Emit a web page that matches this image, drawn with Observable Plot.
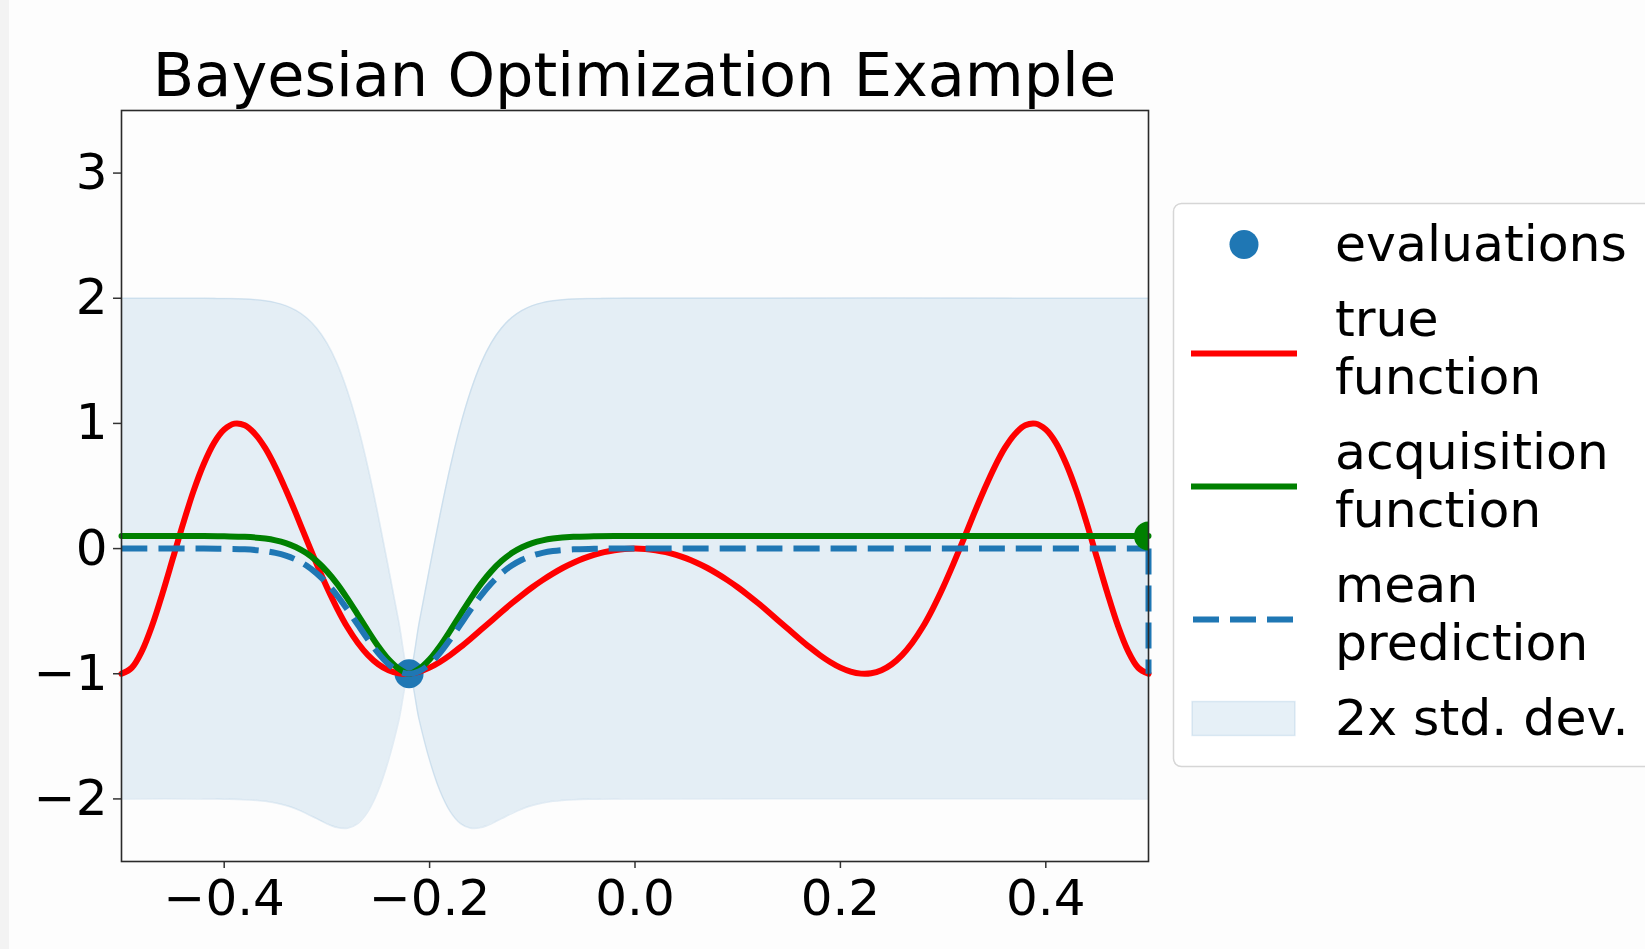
<!DOCTYPE html>
<html>
<head>
<meta charset="utf-8">
<title>Bayesian Optimization Example</title>
<script src="https://cdn.jsdelivr.net/npm/d3@7"></script>
<script src="https://cdn.jsdelivr.net/npm/@observablehq/plot@0.6"></script>
<style>
  html, body { margin: 0; padding: 0; background: #fdfdfd; overflow: hidden; }
  #page { position: relative; width: 1645px; height: 949px; font-family: "DejaVu Sans", sans-serif; }
  #edge { position: absolute; left: 0; top: 0; width: 9px; height: 949px; background: #f3f3f3; }
  #title { position: absolute; left: 121px; width: 1027px; top: 45px; margin: 0; text-align: center;
           font-size: 60.5px; line-height: 60px; font-weight: normal; color: #000; white-space: nowrap; }
  #chart, #legend { position: absolute; left: 0; top: 0; }
</style>
</head>
<body>
<div id="page">
  <div id="edge"></div>
  <div id="chart"></div>
  <h2 id="title">Bayesian Optimization Example</h2>
  <div id="legend"></div>
</div>
<script>
// True objective, sampled every 0.01
const trueX = [-0.50, -0.49, -0.48, -0.47, -0.46, -0.45, -0.44, -0.43, -0.42, -0.41,
               -0.40, -0.39, -0.38, -0.37, -0.36, -0.35, -0.34, -0.33, -0.32, -0.31,
               -0.30, -0.29, -0.28, -0.27, -0.26, -0.25, -0.24, -0.23, -0.22, -0.21,
               -0.20, -0.19, -0.18, -0.17, -0.16, -0.15, -0.14, -0.13, -0.12, -0.11,
               -0.10, -0.09, -0.08, -0.07, -0.06, -0.05, -0.04, -0.03, -0.02, -0.01,
                0.00,
                0.01, 0.02, 0.03, 0.04, 0.05, 0.06, 0.07, 0.08, 0.09, 0.10,
                0.11, 0.12, 0.13, 0.14, 0.15, 0.16, 0.17, 0.18, 0.19, 0.20,
                0.21, 0.22, 0.23, 0.24, 0.25, 0.26, 0.27, 0.28, 0.29, 0.30,
                0.31, 0.32, 0.33, 0.34, 0.35, 0.36, 0.37, 0.38, 0.39, 0.40,
                0.41, 0.42, 0.43, 0.44, 0.45, 0.46, 0.47, 0.48, 0.49, 0.50];
const trueY = [-1.000, -0.952, -0.817, -0.611, -0.356, -0.079, 0.199, 0.457, 0.674, 0.843,
                0.951, 0.998, 0.985, 0.916, 0.802, 0.649, 0.470, 0.277, 0.075, -0.122,
               -0.309, -0.479, -0.629, -0.752, -0.851, -0.924, -0.972, -0.996, -0.999, -0.983,
               -0.951, -0.906, -0.851, -0.788, -0.720, -0.649, -0.578, -0.506, -0.437, -0.371,
               -0.309, -0.252, -0.200, -0.153, -0.113, -0.078, -0.050, -0.028, -0.013, -0.003,
                0.000,
               -0.003, -0.013, -0.028, -0.050, -0.078, -0.113, -0.153, -0.200, -0.252, -0.309,
               -0.371, -0.437, -0.506, -0.578, -0.649, -0.720, -0.788, -0.851, -0.906, -0.951,
               -0.983, -0.999, -0.996, -0.972, -0.924, -0.851, -0.752, -0.629, -0.479, -0.309,
               -0.122, 0.075, 0.277, 0.470, 0.649, 0.802, 0.916, 0.985, 0.998, 0.951,
                0.843, 0.674, 0.457, 0.199, -0.079, -0.356, -0.611, -0.817, -0.952, -1.000];

// Gaussian-process posterior around the single evaluation
const gpX    = [-0.50, -0.42, -0.40, -0.38, -0.36, -0.35, -0.34, -0.33, -0.32, -0.31, -0.30, -0.29, -0.28,
                -0.27, -0.26, -0.25, -0.24, -0.23, -0.22, -0.21, -0.20, -0.19, -0.18, -0.17, -0.16, -0.15,
                -0.14, -0.13, -0.12, -0.11, -0.10, -0.09, -0.08, -0.06, -0.04, -0.02, 0.50];
const meanY  = [0.000, 0.000, -0.002, -0.006, -0.020, -0.034, -0.056, -0.089, -0.135, -0.198, -0.278, -0.375, -0.487,
                -0.607, -0.726, -0.835, -0.923, -0.980, -1.000, -0.980, -0.923, -0.835, -0.726, -0.607, -0.487, -0.375,
                -0.278, -0.198, -0.135, -0.089, -0.056, -0.034, -0.020, -0.006, -0.002, 0.000, 0.000];
const lowerY = [-2.000, -2.000, -2.002, -2.006, -2.019, -2.033, -2.053, -2.081, -2.117, -2.158, -2.199, -2.229, -2.234,
                -2.197, -2.101, -1.935, -1.692, -1.376, -1.000, -1.376, -1.692, -1.935, -2.101, -2.197, -2.234, -2.229,
                -2.199, -2.158, -2.117, -2.081, -2.053, -2.033, -2.019, -2.006, -2.002, -2.000, -2.000];
const upperY = [2.000, 2.000, 1.998, 1.994, 1.980, 1.965, 1.941, 1.903, 1.846, 1.762, 1.643, 1.479, 1.260,
                0.984, 0.649, 0.264, -0.154, -0.584, -1.000, -0.584, -0.154, 0.264, 0.649, 0.984, 1.260, 1.479,
                1.643, 1.762, 1.846, 1.903, 1.941, 1.965, 1.980, 1.994, 1.998, 2.000, 2.000];
const acqY   = [0.100, 0.100, 0.098, 0.094, 0.080, 0.066, 0.044, 0.011, -0.036, -0.100, -0.182, -0.282, -0.400,
                -0.527, -0.657, -0.780, -0.885, -0.960, -1.000, -0.960, -0.885, -0.780, -0.657, -0.527, -0.400, -0.282,
                -0.182, -0.100, -0.036, 0.011, 0.044, 0.066, 0.080, 0.094, 0.098, 0.100, 0.100];

// Mean prediction drops to the new sample at the right edge
const meanTailX = [0.50, 0.50];
const meanTailY = [0.00, -1.00];

// Evaluated point and the next proposed point
const evalX = [-0.22];
const evalY = [-1.00];
const nextX = [0.50];
const nextY = [0.10];

const xDomain = [-0.5, 0.5];
const yDomain = [-2.5, 3.5];
const xTicks = [-0.4, -0.2, 0.0, 0.2, 0.4];
const yTicks = [-2, -1, 0, 1, 2, 3];

const legendLabels = [["evaluations"], ["true", "function"], ["acquisition", "function"], ["mean", "prediction"], ["2x std. dev."]];

const BLUE = "#1f77b4", RED = "#ff0000", GREEN = "#008000";
const LW = 6, DASH = "26,11";

const trueData = trueX.map((x, i) => ({x, y: trueY[i]}));
const gpData = gpX.map((x, i) => ({x, mean: meanY[i], lo: lowerY[i], hi: upperY[i], acq: acqY[i]}));
const tailData = meanTailX.map((x, i) => ({x, y: meanTailY[i]}));
const evalData = evalX.map((x, i) => ({x, y: evalY[i]}));
const nextData = nextX.map((x, i) => ({x, y: nextY[i]}));

const chart = Plot.plot({
  width: 1645,
  height: 949,
  marginLeft: 121,
  marginRight: 497,
  marginTop: 110,
  marginBottom: 88,
  x: {domain: xDomain, label: null},
  y: {domain: yDomain, label: null},
  style: {fontFamily: "'DejaVu Sans', sans-serif", fontSize: "50px", color: "#000", background: "transparent", overflow: "visible"},
  marks: [
    Plot.areaY(gpData, {x: "x", y1: "lo", y2: "hi", fill: BLUE, fillOpacity: 0.11, curve: "catmull-rom"}),
    Plot.line(gpData, {x: "x", y: "lo", stroke: BLUE, strokeOpacity: 0.12, strokeWidth: 1.5, curve: "catmull-rom"}),
    Plot.line(gpData, {x: "x", y: "hi", stroke: BLUE, strokeOpacity: 0.12, strokeWidth: 1.5, curve: "catmull-rom"}),
    Plot.dot(evalData, {x: "x", y: "y", r: 14.5, fill: BLUE}),
    Plot.line(trueData, {x: "x", y: "y", stroke: RED, strokeWidth: LW, curve: "catmull-rom"}),
    Plot.line(gpData, {x: "x", y: "acq", stroke: GREEN, strokeWidth: LW, curve: "catmull-rom"}),
    Plot.line(gpData, {x: "x", y: "mean", stroke: BLUE, strokeWidth: LW, strokeDasharray: DASH, strokeLinecap: "butt", curve: "catmull-rom"}),
    Plot.line(tailData, {x: "x", y: "y", stroke: BLUE, strokeWidth: LW, strokeDasharray: DASH, strokeLinecap: "butt"}),
    Plot.dot(nextData, {x: "x", y: "y", r: 14.5, fill: GREEN, clip: true}),
    Plot.axisX({ticks: xTicks, tickFormat: d3.format(".1f"), tickSize: 7, tickPadding: 11, stroke: "#333", strokeWidth: 1.5}),
    Plot.axisY({ticks: yTicks, tickFormat: d3.format("d"), tickSize: 8, tickPadding: 6, stroke: "#333", strokeWidth: 1.5}),
    Plot.frame({stroke: "#2a2a2a", strokeWidth: 1.6})
  ]
});
document.getElementById("chart").appendChild(chart);

// Legend panel on the right
const legend = d3.create("svg")
  .attr("width", 1645)
  .attr("height", 949)
  .style("font-family", "'DejaVu Sans', sans-serif")
  .style("font-size", "50.5px");

legend.append("rect")
  .attr("x", 1173.5).attr("y", 203.5)
  .attr("width", 600).attr("height", 563)
  .attr("rx", 8)
  .attr("fill", "#ffffff").attr("fill-opacity", 0.8)
  .attr("stroke", "#cccccc").attr("stroke-opacity", 0.8).attr("stroke-width", 1.5);

const textX = 1335, firstBaseline = 261, lineStep = 58, rowGap = 17;
const swatchX0 = 1191, swatchX1 = 1297, swatchCx = 1244;
let baseline = firstBaseline - lineStep - rowGap;
legendLabels.forEach((lines, row) => {
  baseline += lineStep + rowGap;
  const first = baseline;
  lines.forEach((t, j) => {
    if (j > 0) baseline += lineStep;
    legend.append("text").attr("x", textX).attr("y", baseline).attr("fill", "#000").text(t);
  });
  const cy = (first + baseline) / 2 - (lines.length > 1 ? 11.5 : 16.5);
  if (row === 0) {
    legend.append("circle").attr("cx", swatchCx).attr("cy", cy).attr("r", 14.5).attr("fill", BLUE);
  } else if (row === 1 || row === 2) {
    legend.append("line").attr("x1", swatchX0).attr("x2", swatchX1).attr("y1", cy).attr("y2", cy)
      .attr("stroke", row === 1 ? RED : GREEN).attr("stroke-width", LW);
  } else if (row === 3) {
    legend.append("line").attr("x1", swatchX0 + 2).attr("x2", swatchX1).attr("y1", cy).attr("y2", cy)
      .attr("stroke", BLUE).attr("stroke-width", LW).attr("stroke-dasharray", DASH);
  } else {
    legend.append("rect").attr("x", swatchX0 + 1).attr("y", cy - 17).attr("width", 103).attr("height", 34)
      .attr("fill", BLUE).attr("fill-opacity", 0.11)
      .attr("stroke", BLUE).attr("stroke-opacity", 0.12).attr("stroke-width", 1.5);
  }
});
document.getElementById("legend").appendChild(legend.node());
</script>
</body>
</html>
